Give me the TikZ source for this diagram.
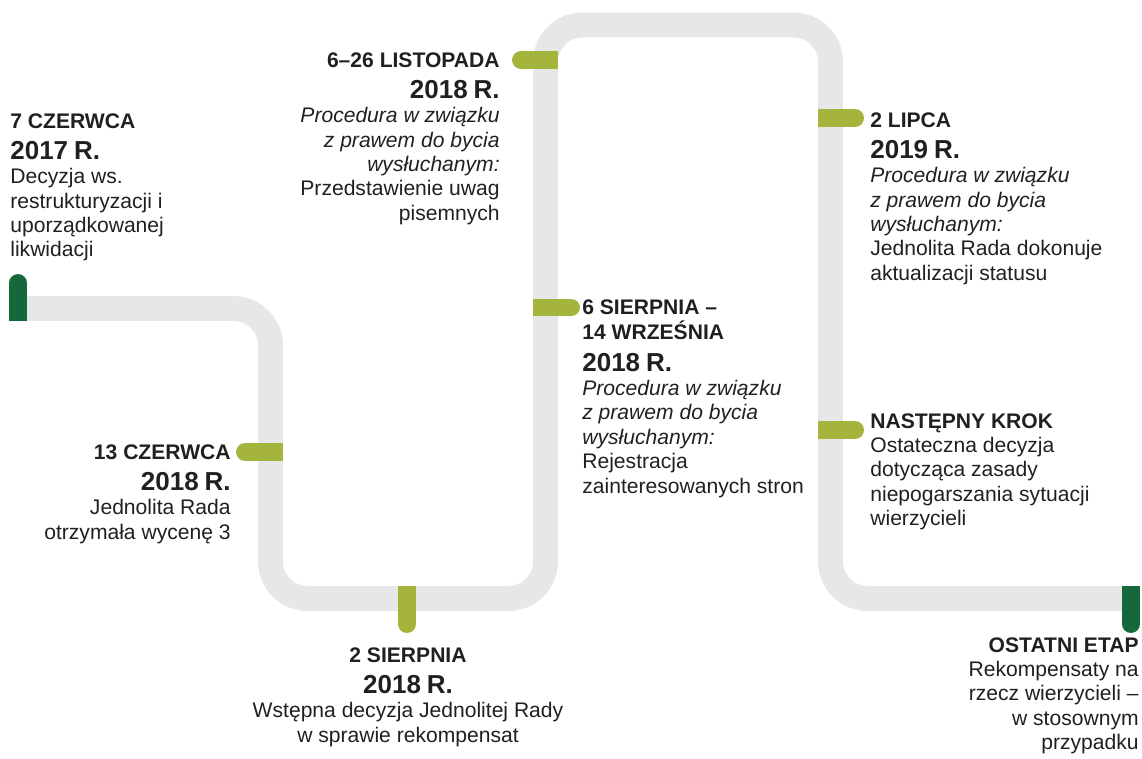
\documentclass[tikz,border=0pt]{standalone}
\usepackage{fontspec}
\setmainfont{Liberation Sans}
\usepackage{xcolor}
\usepackage{tikz}
\usetikzlibrary{positioning, calc}

\definecolor{trackgray}{HTML}{E6E7E8}
\definecolor{tabolive}{HTML}{A5B43B}
\definecolor{tabgreen}{HTML}{14683A}
\definecolor{ink}{HTML}{231F20}

% wiersze opisu
\newcommand{\when}[1]{{\fontsize{12}{14.7}\selectfont\bfseries #1\par}}
\newcommand{\yr}[1]{{\fontsize{14.8}{17.8}\selectfont\bfseries #1\par}}
\newcommand{\what}[1]{{\fontsize{12}{13.9}\selectfont #1\par}}
\newcommand{\heard}{{\itshape Procedura w związku\\ z prawem do bycia\\ wysłuchanym:}}

\begin{document}
\begin{tikzpicture}[x=0.02cm, y=-0.02cm,
    track/.style={draw=trackgray, line width=14.2pt, rounded corners=0.74cm},
    tab/.style={draw=#1, line width=10.2pt},
    tabtip/.style={tab=#1, line cap=round},
    blurb/.style={inner sep=0pt, text width=8cm, text=ink}]
    \useasboundingbox (0,0) rectangle (1142,758);

    % szara droga
    \draw[track] (27,308.5) -- (270.5,308.5) -- (270.5,598.5) -- (545.5,598.5)
        -- (545.5,25) -- (830.5,25) -- (830.5,598.5) -- (1124,598.5);

    % znaczniki
    \draw[tab=tabgreen] (18,321) -- (18,290);
    \draw[tabtip=tabgreen] (18,300) -- (18,283);
    \draw[tab=tabolive] (283,452) -- (250,452);
    \draw[tabtip=tabolive] (260,452) -- (245,452);
    \draw[tab=tabolive] (407,586) -- (407,612);
    \draw[tabtip=tabolive] (407,605) -- (407,624);
    \draw[tab=tabolive] (558,60) -- (530,60);
    \draw[tabtip=tabolive] (535,60) -- (521,60);
    \draw[tab=tabolive] (533,307.5) -- (560,307.5);
    \draw[tabtip=tabolive] (555,307.5) -- (571,307.5);
    \draw[tab=tabolive] (818,118) -- (845,118);
    \draw[tabtip=tabolive] (840,118) -- (855,118);
    \draw[tab=tabolive] (818,430) -- (845,430);
    \draw[tabtip=tabolive] (840,430) -- (855,430);
    \draw[tab=tabgreen] (1131,586) -- (1131,612);
    \draw[tabtip=tabgreen] (1131,605) -- (1131,624);

    % opisy etapow
    \node[blurb, anchor=base west, align=left] (czerwiec17) at (10,128)
        {\when{7 CZERWCA}\yr{2017 R.}\what{Decyzja ws.\\ restrukturyzacji i\\ uporządkowanej\\ likwidacji}};
    \node[blurb, anchor=base east, align=right] (czerwiec18) at (231,459)
        {\when{13 CZERWCA}\yr{2018 R.}\what{Jednolita Rada\\ otrzymała wycenę 3}};
    \node[blurb, anchor=base, align=center] (sierpien) at (408,662)
        {\when{2 SIERPNIA}\yr{2018 R.}\what{Wstępna decyzja Jednolitej Rady\\ w sprawie rekompensat}};
    \node[blurb, anchor=base east, align=right] (listopad) at (500,67)
        {\when{6–26 LISTOPADA}\yr{2018 R.}\what{\heard\\ Przedstawienie uwag\\ pisemnych}};
    \node[blurb, anchor=base west, align=left] (wrzesien) at (582,314)
        {\when{6 SIERPNIA –\\ 14 WRZEŚNIA}\yr{2018 R.}\what{\heard\\ Rejestracja\\ zainteresowanych stron}};
    \node[blurb, anchor=base west, align=left] (lipiec) at (870,127)
        {\when{2 LIPCA}\yr{2019 R.}\what{\heard\\ Jednolita Rada dokonuje\\ aktualizacji statusu}};
    \node[blurb, anchor=base west, align=left] (krok) at (870,428)
        {\when{NASTĘPNY KROK}\what{Ostateczna decyzja\\ dotycząca zasady\\ niepogarszania sytuacji\\ wierzycieli}};
    \node[blurb, anchor=base east, align=right] (etap) at (1139,652)
        {\when{OSTATNI ETAP}\what{Rekompensaty na\\ rzecz wierzycieli –\\ w stosownym\\ przypadku}};
\end{tikzpicture}
\end{document}
